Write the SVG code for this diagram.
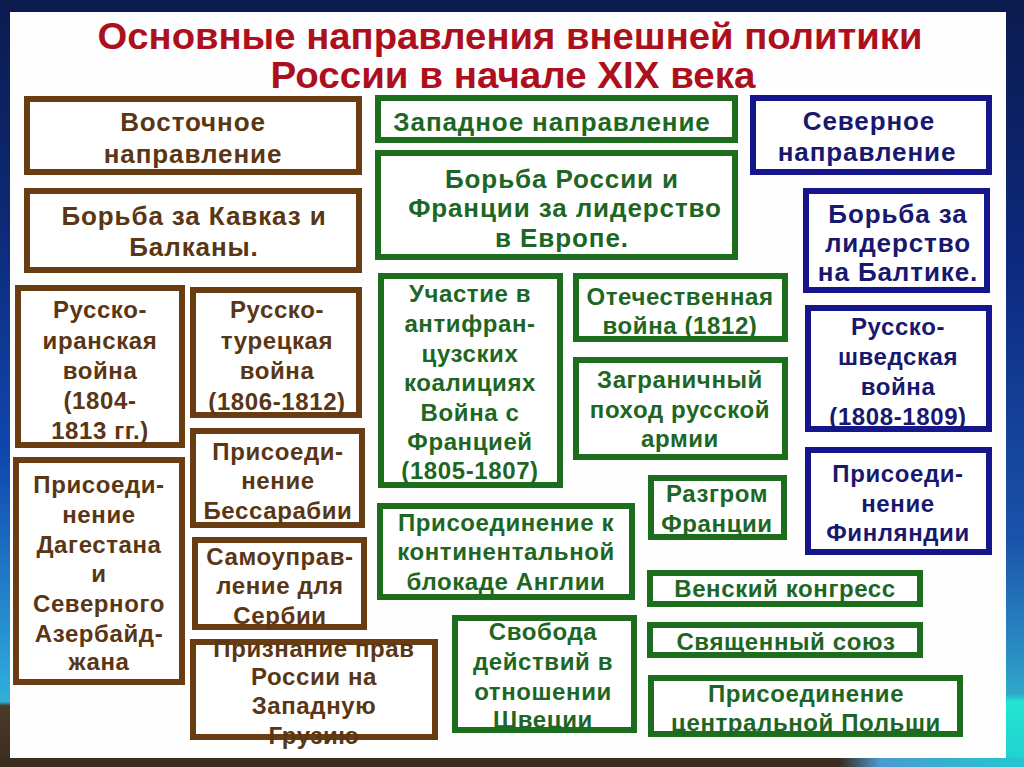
<svg xmlns="http://www.w3.org/2000/svg" width="1024" height="767" viewBox="0 0 1024 767">
<defs>
<linearGradient id="gl" x1="0" y1="0" x2="0" y2="1">
<stop offset="0" stop-color="#0b1b4e"/><stop offset="0.3" stop-color="#0d2a78"/><stop offset="0.6" stop-color="#1048b0"/><stop offset="0.85" stop-color="#2a9ad4"/><stop offset="0.915" stop-color="#30b0dc"/><stop offset="0.92" stop-color="#4a3a28"/><stop offset="1" stop-color="#3a2c1e"/>
</linearGradient>
<linearGradient id="gr" x1="0" y1="0" x2="0" y2="1">
<stop offset="0" stop-color="#0b1b4e"/><stop offset="0.35" stop-color="#0d2a80"/><stop offset="0.7" stop-color="#1a52aa"/><stop offset="0.85" stop-color="#2a8cc4"/><stop offset="0.905" stop-color="#30a8c8"/><stop offset="0.915" stop-color="#22e4d2"/><stop offset="1" stop-color="#20d0d0"/>
</linearGradient>
<linearGradient id="gb" x1="0" y1="0" x2="1" y2="0">
<stop offset="0" stop-color="#3a2c1e"/><stop offset="0.82" stop-color="#3a2c1e"/><stop offset="0.86" stop-color="#4a9ad0"/><stop offset="1" stop-color="#22c8d0"/>
</linearGradient>
<style>
text{font-family:"Liberation Sans",Arial,sans-serif;font-weight:bold;font-size:24px;text-anchor:middle;letter-spacing:0.6px}
.big text{font-size:26px;letter-spacing:0.9px}
.title{fill:#ad101c;font-size:36px;letter-spacing:0}
.b rect{fill:#fff;stroke:#6a3c12;stroke-width:6}
.b text{fill:#5a3614}
.g rect{fill:#fff;stroke:#1c6e1c;stroke-width:6}
.g text{fill:#1e6624}
.u rect{fill:#fff;stroke:#16168c;stroke-width:6}
.u text{fill:#18186e}
</style>
</defs>
<rect width="1024" height="767" fill="#0b1b4e"/>
<rect x="0" y="0" width="10" height="767" fill="url(#gl)"/>
<rect x="1006" y="0" width="18" height="767" fill="url(#gr)"/>
<rect x="0" y="757" width="1024" height="10" fill="url(#gb)"/>
<rect x="10" y="12" width="996" height="746" fill="#fefefe"/>

<g id="title">
<text class="title" x="510" y="49" textLength="825" lengthAdjust="spacingAndGlyphs">Основные направления внешней политики</text>
<text class="title" x="513" y="88" textLength="485" lengthAdjust="spacingAndGlyphs">России в начале XIX века</text>
</g>

<g id="connectors"></g>

<g id="east-head" class="b big"><rect x="27" y="99" width="332" height="73"/>
<text><tspan x="193" y="131">Восточное</tspan><tspan x="193" y="163">направление</tspan></text></g>
<g id="east-goal" class="b big"><rect x="27" y="191" width="332" height="79"/>
<text><tspan x="194" y="225">Борьба за Кавказ и</tspan><tspan x="194" y="256">Балканы.</tspan></text></g>
<g id="ru-iran" class="b"><rect x="18" y="288" width="164" height="157"/>
<text><tspan x="100" y="318">Русско-</tspan><tspan x="100" y="349">иранская</tspan><tspan x="100" y="379">война</tspan><tspan x="100" y="409">(1804-</tspan><tspan x="100" y="439">1813 гг.)</tspan></text></g>
<g id="ru-turk" class="b"><rect x="193" y="290" width="166" height="125"/>
<text><tspan x="277" y="318">Русско-</tspan><tspan x="277" y="349">турецкая</tspan><tspan x="277" y="379">война</tspan><tspan x="277" y="410">(1806-1812)</tspan></text></g>
<g id="bessarabia" class="b"><rect x="193" y="431" width="169" height="94"/>
<text><tspan x="278" y="460">Присоеди-</tspan><tspan x="278" y="489">нение</tspan><tspan x="278" y="519">Бессарабии</tspan></text></g>
<g id="dagestan" class="b"><rect x="16" y="460" width="166" height="222"/>
<text><tspan x="99" y="493">Присоеди-</tspan><tspan x="99" y="523">нение</tspan><tspan x="99" y="553">Дагестана</tspan><tspan x="99" y="582">и</tspan><tspan x="99" y="612">Северного</tspan><tspan x="99" y="642">Азербайд-</tspan><tspan x="99" y="670">жана</tspan></text></g>
<g id="serbia" class="b"><rect x="195" y="540" width="169" height="87"/>
<text><tspan x="280" y="565">Самоуправ-</tspan><tspan x="280" y="594">ление для</tspan><tspan x="280" y="624">Сербии</tspan></text></g>
<g id="georgia" class="b"><rect x="193" y="642" width="242" height="95"/>
<text><tspan x="314" y="657">Признание прав</tspan><tspan x="314" y="685">России на</tspan><tspan x="314" y="714">Западную</tspan><tspan x="314" y="744">Грузию</tspan></text></g>

<g id="west-head" class="g big"><rect x="378" y="98" width="357" height="42"/>
<text><tspan x="552" y="131">Западное направление</tspan></text></g>
<g id="west-goal" class="g big"><rect x="378" y="153" width="357" height="104"/>
<text><tspan x="562" y="188">Борьба России и</tspan><tspan x="565" y="217">Франции за лидерство</tspan><tspan x="562" y="247">в Европе.</tspan></text></g>
<g id="coalitions" class="g"><rect x="381" y="276" width="179" height="209"/>
<text><tspan x="470" y="302">Участие в</tspan><tspan x="470" y="332">антифран-</tspan><tspan x="470" y="362">цузских</tspan><tspan x="470" y="391">коалициях</tspan><tspan x="470" y="421">Война с</tspan><tspan x="470" y="450">Францией</tspan><tspan x="470" y="479">(1805-1807)</tspan></text></g>
<g id="patriotic" class="g"><rect x="576" y="276" width="209" height="63"/>
<text><tspan x="680" y="305">Отечественная</tspan><tspan x="680" y="334">война (1812)</tspan></text></g>
<g id="campaign" class="g"><rect x="576" y="360" width="209" height="97"/>
<text><tspan x="680" y="388">Заграничный</tspan><tspan x="680" y="418">поход русской</tspan><tspan x="680" y="447">армии</tspan></text></g>
<g id="defeat" class="g"><rect x="651" y="478" width="133" height="59"/>
<text><tspan x="717" y="502">Разгром</tspan><tspan x="717" y="532">Франции</tspan></text></g>
<g id="blockade" class="g"><rect x="380" y="506" width="252" height="91"/>
<text><tspan x="506" y="531">Присоединение к</tspan><tspan x="506" y="560">континентальной</tspan><tspan x="506" y="590">блокаде Англии</tspan></text></g>
<g id="sweden-freedom" class="g"><rect x="455" y="618" width="179" height="112"/>
<text><tspan x="543" y="640">Свобода</tspan><tspan x="543" y="670">действий в</tspan><tspan x="543" y="700">отношении</tspan><tspan x="543" y="728">Швеции</tspan></text></g>
<g id="vienna" class="g"><rect x="650" y="573" width="270" height="31"/>
<text><tspan x="785" y="597">Венский конгресс</tspan></text></g>
<g id="holy-alliance" class="g"><rect x="650" y="625" width="270" height="30"/>
<text><tspan x="786" y="650">Священный союз</tspan></text></g>
<g id="poland" class="g"><rect x="651" y="678" width="309" height="56"/>
<text><tspan x="806" y="702">Присоединение</tspan><tspan x="806" y="731">центральной Польши</tspan></text></g>

<g id="north-head" class="u big"><rect x="753" y="98" width="236" height="74"/>
<text><tspan x="869" y="130">Северное</tspan><tspan x="867" y="161">направление</tspan></text></g>
<g id="baltic" class="u big"><rect x="806" y="191" width="181" height="99"/>
<text><tspan x="898" y="223">Борьба за</tspan><tspan x="898" y="252">лидерство</tspan><tspan x="898" y="281">на Балтике.</tspan></text></g>
<g id="ru-swed" class="u"><rect x="808" y="308" width="181" height="121"/>
<text><tspan x="898" y="335">Русско-</tspan><tspan x="898" y="365">шведская</tspan><tspan x="898" y="395">война</tspan><tspan x="898" y="425">(1808-1809)</tspan></text></g>
<g id="finland" class="u"><rect x="808" y="450" width="181" height="102"/>
<text><tspan x="898" y="482">Присоеди-</tspan><tspan x="898" y="512">нение</tspan><tspan x="898" y="541">Финляндии</tspan></text></g>
</svg>
